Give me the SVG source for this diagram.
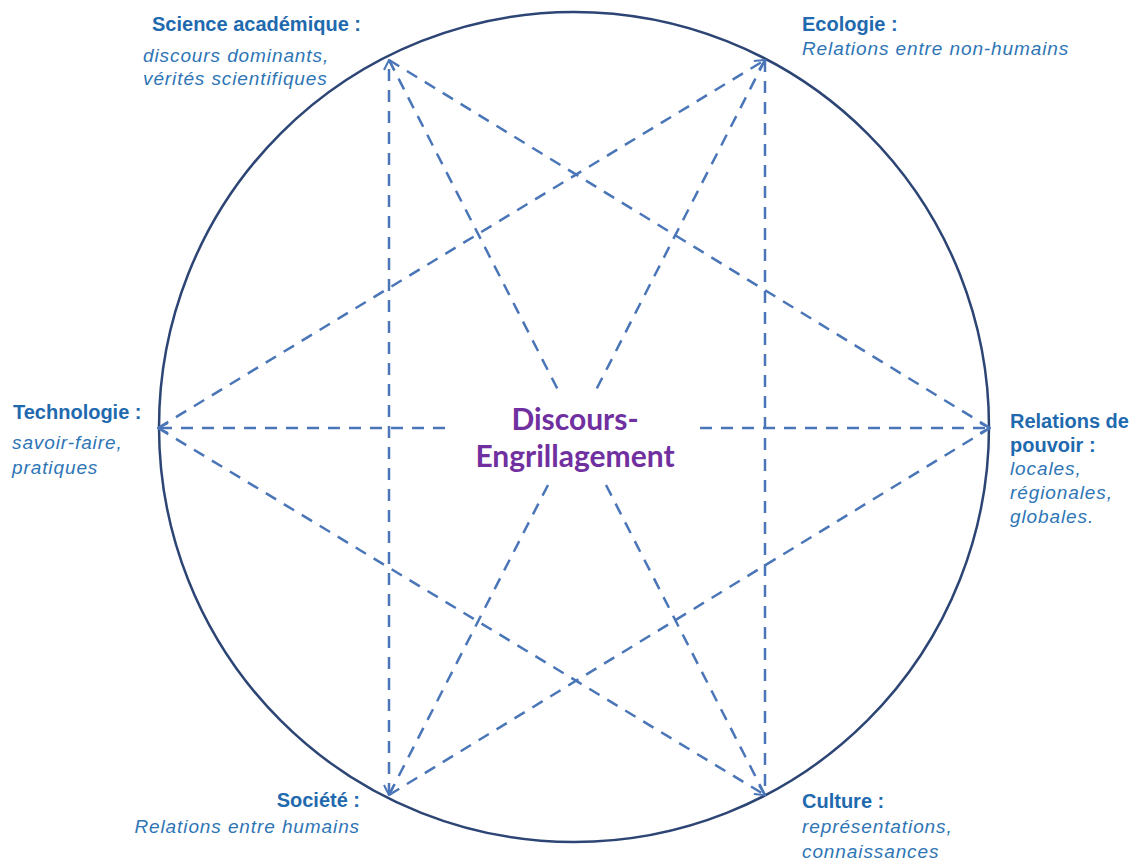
<svg xmlns="http://www.w3.org/2000/svg" width="1137" height="865" viewBox="0 0 1137 865">
<defs>
<style>
.ring{fill:none;stroke:#2C4574;stroke-width:2.5}
.dl{fill:none;stroke:#4A76B8;stroke-width:2.5;stroke-dasharray:12 9}
.t{font-family:"Liberation Sans",Arial,sans-serif;font-size:20px;font-weight:bold;fill:#1F6AAE}
.s{font-family:"Liberation Sans",Arial,sans-serif;font-size:19px;font-style:italic;letter-spacing:0.9px;fill:#2E75B6}
.c{font-family:Lato,"Liberation Sans",sans-serif;font-size:30px;font-weight:bold;fill:#7030A0;text-anchor:middle}
</style>
<marker id="ah" viewBox="0 0 12 12" refX="11" refY="6" markerWidth="12" markerHeight="12" markerUnits="userSpaceOnUse" orient="auto-start-reverse">
<path d="M1,1 L11,6 L1,11" fill="none" stroke="#4A76B8" stroke-width="2"/>
</marker>
</defs>
<rect width="1137" height="865" fill="#ffffff"/>
<g id="frame"><circle class="ring" cx="574" cy="427" r="415"/></g>
<g id="connectors">
<path class="dl" d="M389,795 L389,60" marker-start="url(#ah)" marker-end="url(#ah)"/>
<path class="dl" d="M765,60 L765,795"/>
<path class="dl" d="M389,60 L558,390"/>
<path class="dl" d="M606,485 L765,795"/>
<path class="dl" d="M765,60 L596,390"/>
<path class="dl" d="M548,485 L389,795"/>
<path class="dl" d="M445,428 L158,428" marker-end="url(#ah)"/>
<path class="dl" d="M700,428 L990,428" marker-end="url(#ah)"/>
<path class="dl" d="M158,428 L765,60" marker-end="url(#ah)"/>
<path class="dl" d="M158,428 L765,795" marker-end="url(#ah)"/>
<path class="dl" d="M389,60 L990,428"/>
<path class="dl" d="M389,795 L990,428"/>
</g>
<g id="center"><text class="c" x="575" y="430">Discours-</text><text class="c" x="575" y="467">Engrillagement</text></g>
<g id="science"><text class="t" x="152" y="31">Science académique :</text><text class="s" x="143" y="62">discours dominants,</text><text class="s" x="143" y="85">vérités scientifiques</text></g>
<g id="ecologie"><text class="t" x="802" y="31">Ecologie :</text><text class="s" x="802" y="55">Relations entre non-humains</text></g>
<g id="technologie"><text class="t" x="13" y="419">Technologie :</text><text class="s" x="12" y="449">savoir-faire,</text><text class="s" x="12" y="474">pratiques</text></g>
<g id="pouvoir"><text class="t" x="1010" y="428">Relations de</text><text class="t" x="1010" y="452">pouvoir :</text><text class="s" x="1010" y="475">locales,</text><text class="s" x="1010" y="499">régionales,</text><text class="s" x="1010" y="523">globales.</text></g>
<g id="societe"><text class="t" x="360" y="807" text-anchor="end">Société :</text><text class="s" x="360" y="833" text-anchor="end">Relations entre humains</text></g>
<g id="culture"><text class="t" x="802" y="808">Culture :</text><text class="s" x="802" y="833">représentations,</text><text class="s" x="802" y="858">connaissances</text></g>
</svg>
